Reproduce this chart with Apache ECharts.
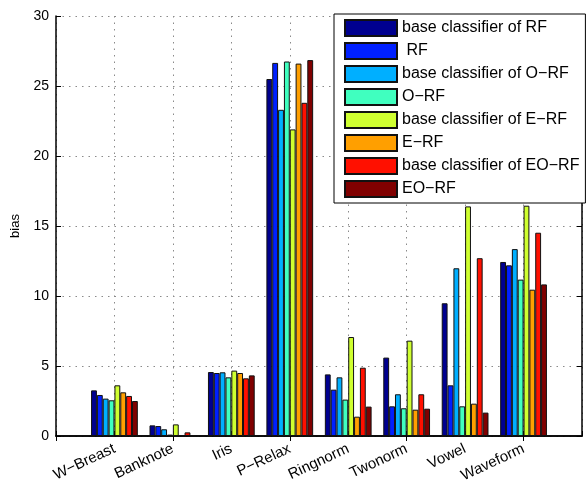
<!DOCTYPE html>
<html>
<head>
<meta charset="utf-8">
<script src="https://cdn.jsdelivr.net/npm/echarts@6/dist/echarts.min.js"></script>
<style>html,body{margin:0;padding:0;background:#fff;}#c{width:586px;height:481px;}</style>
</head>
<body>
<div id="c"></div>
<script>
const categories = ['W\u2212Breast','Banknote','Iris','P\u2212Relax','Ringnorm','Twonorm','Vowel','Waveform'];
const seriesNames = ['base classifier of RF',' RF','base classifier of O\u2212RF','O\u2212RF','base classifier of E\u2212RF','E\u2212RF','base classifier of EO\u2212RF','EO\u2212RF'];
const colors = ['#00008F','#0020FF','#00AFFF','#40FFBF','#CFFF30','#FF9F00','#FF1000','#800000'];
const baseRF   = [3.26, 0.76, 4.57, 25.5, 4.40, 5.60, 9.48, 12.43];
const rf       = [2.93, 0.71, 4.50, 26.65, 3.31, 2.12, 3.62, 12.19];
const baseORF  = [2.67, 0.48, 4.55, 23.3, 4.19, 2.98, 11.98, 13.35];
const orf      = [2.55, 0.10, 4.19, 26.75, 2.60, 1.98, 2.12, 11.17];
const baseERF  = [3.62, 0.83, 4.67, 21.9, 7.07, 6.81, 16.4, 16.45];
const erf      = [3.12, 0.03, 4.50, 26.6, 1.38, 1.88, 2.31, 10.45];
const baseEORF = [2.86, 0.26, 4.12, 23.8, 4.88, 2.98, 12.7, 14.52];
const eorf     = [2.50, 0.01, 4.33, 26.85, 2.10, 1.95, 1.67, 10.83];
const yTicks = {min: 0, max: 30, interval: 5};

const allSeries = [baseRF, rf, baseORF, orf, baseERF, erf, baseEORF, eorf];
const xData = [''].concat(categories, ['']);
const font = 'Liberation Sans, Arial, Helvetica, sans-serif';
const grid = {left: 56, right: 4, top: 16, bottom: 45, containLabel: false, outerBoundsMode: 'none'};
const dotted = {show: true, lineStyle: {color: '#8a8a8a', type: [1.5, 5], width: 1}};

const chart = echarts.init(document.getElementById('c'), null, {renderer: 'canvas'});
chart.setOption({
  animation: false,
  backgroundColor: '#fff',
  textStyle: {fontFamily: font},
  grid: grid,
  legend: {
    orient: 'vertical', left: 334, top: 14,
    padding: [5, 6, 5, 10],
    icon: 'rect',
    itemWidth: 52, itemHeight: 16, itemGap: 5,
    backgroundColor: '#fff', borderColor: '#000', borderWidth: 1,
    textStyle: {fontFamily: font, fontSize: 16, color: '#000'},
    data: seriesNames
  },
  xAxis: [{
    type: 'category', data: xData, boundaryGap: false,
    axisLine: {lineStyle: {color: '#000', width: 1.5}},
    axisTick: {inside: true, length: 5, lineStyle: {color: '#000'}},
    axisLabel: {interval: 0, rotate: 25, fontSize: 15, color: '#000', fontFamily: font, margin: 12},
    splitLine: dotted
  }, {
    type: 'category', data: xData, boundaryGap: false, position: 'top',
    axisLine: {lineStyle: {color: '#000', width: 1.5}},
    axisTick: {inside: true, length: 5, lineStyle: {color: '#000'}},
    axisLabel: {show: false}, splitLine: {show: false}
  }],
  yAxis: [{
    type: 'value', min: yTicks.min, max: yTicks.max, interval: yTicks.interval,
    name: 'bias', nameLocation: 'middle', nameGap: 34, nameRotate: 90,
    nameTextStyle: {fontSize: 13, color: '#000', fontFamily: font},
    axisLine: {show: true, lineStyle: {color: '#000', width: 1.5}},
    axisTick: {show: true, inside: true, length: 5, lineStyle: {color: '#000'}},
    axisLabel: {fontSize: 14, color: '#000', fontFamily: font, margin: 7},
    splitLine: dotted
  }, {
    type: 'value', min: yTicks.min, max: yTicks.max, interval: yTicks.interval, position: 'right',
    axisLine: {show: true, lineStyle: {color: '#000', width: 1.5}},
    axisTick: {show: true, inside: true, length: 5, lineStyle: {color: '#000'}},
    axisLabel: {show: false}, splitLine: {show: false}
  }],
  series: allSeries.map((vals, i) => ({
    name: seriesNames[i], type: 'bar', xAxisIndex: 0, yAxisIndex: 0,
    data: ['-'].concat(vals, ['-']),
    barGap: '0%', barCategoryGap: '20%',
    itemStyle: {color: colors[i], borderColor: '#111', borderWidth: 1}
  }))
});
</script>
</body>
</html>
